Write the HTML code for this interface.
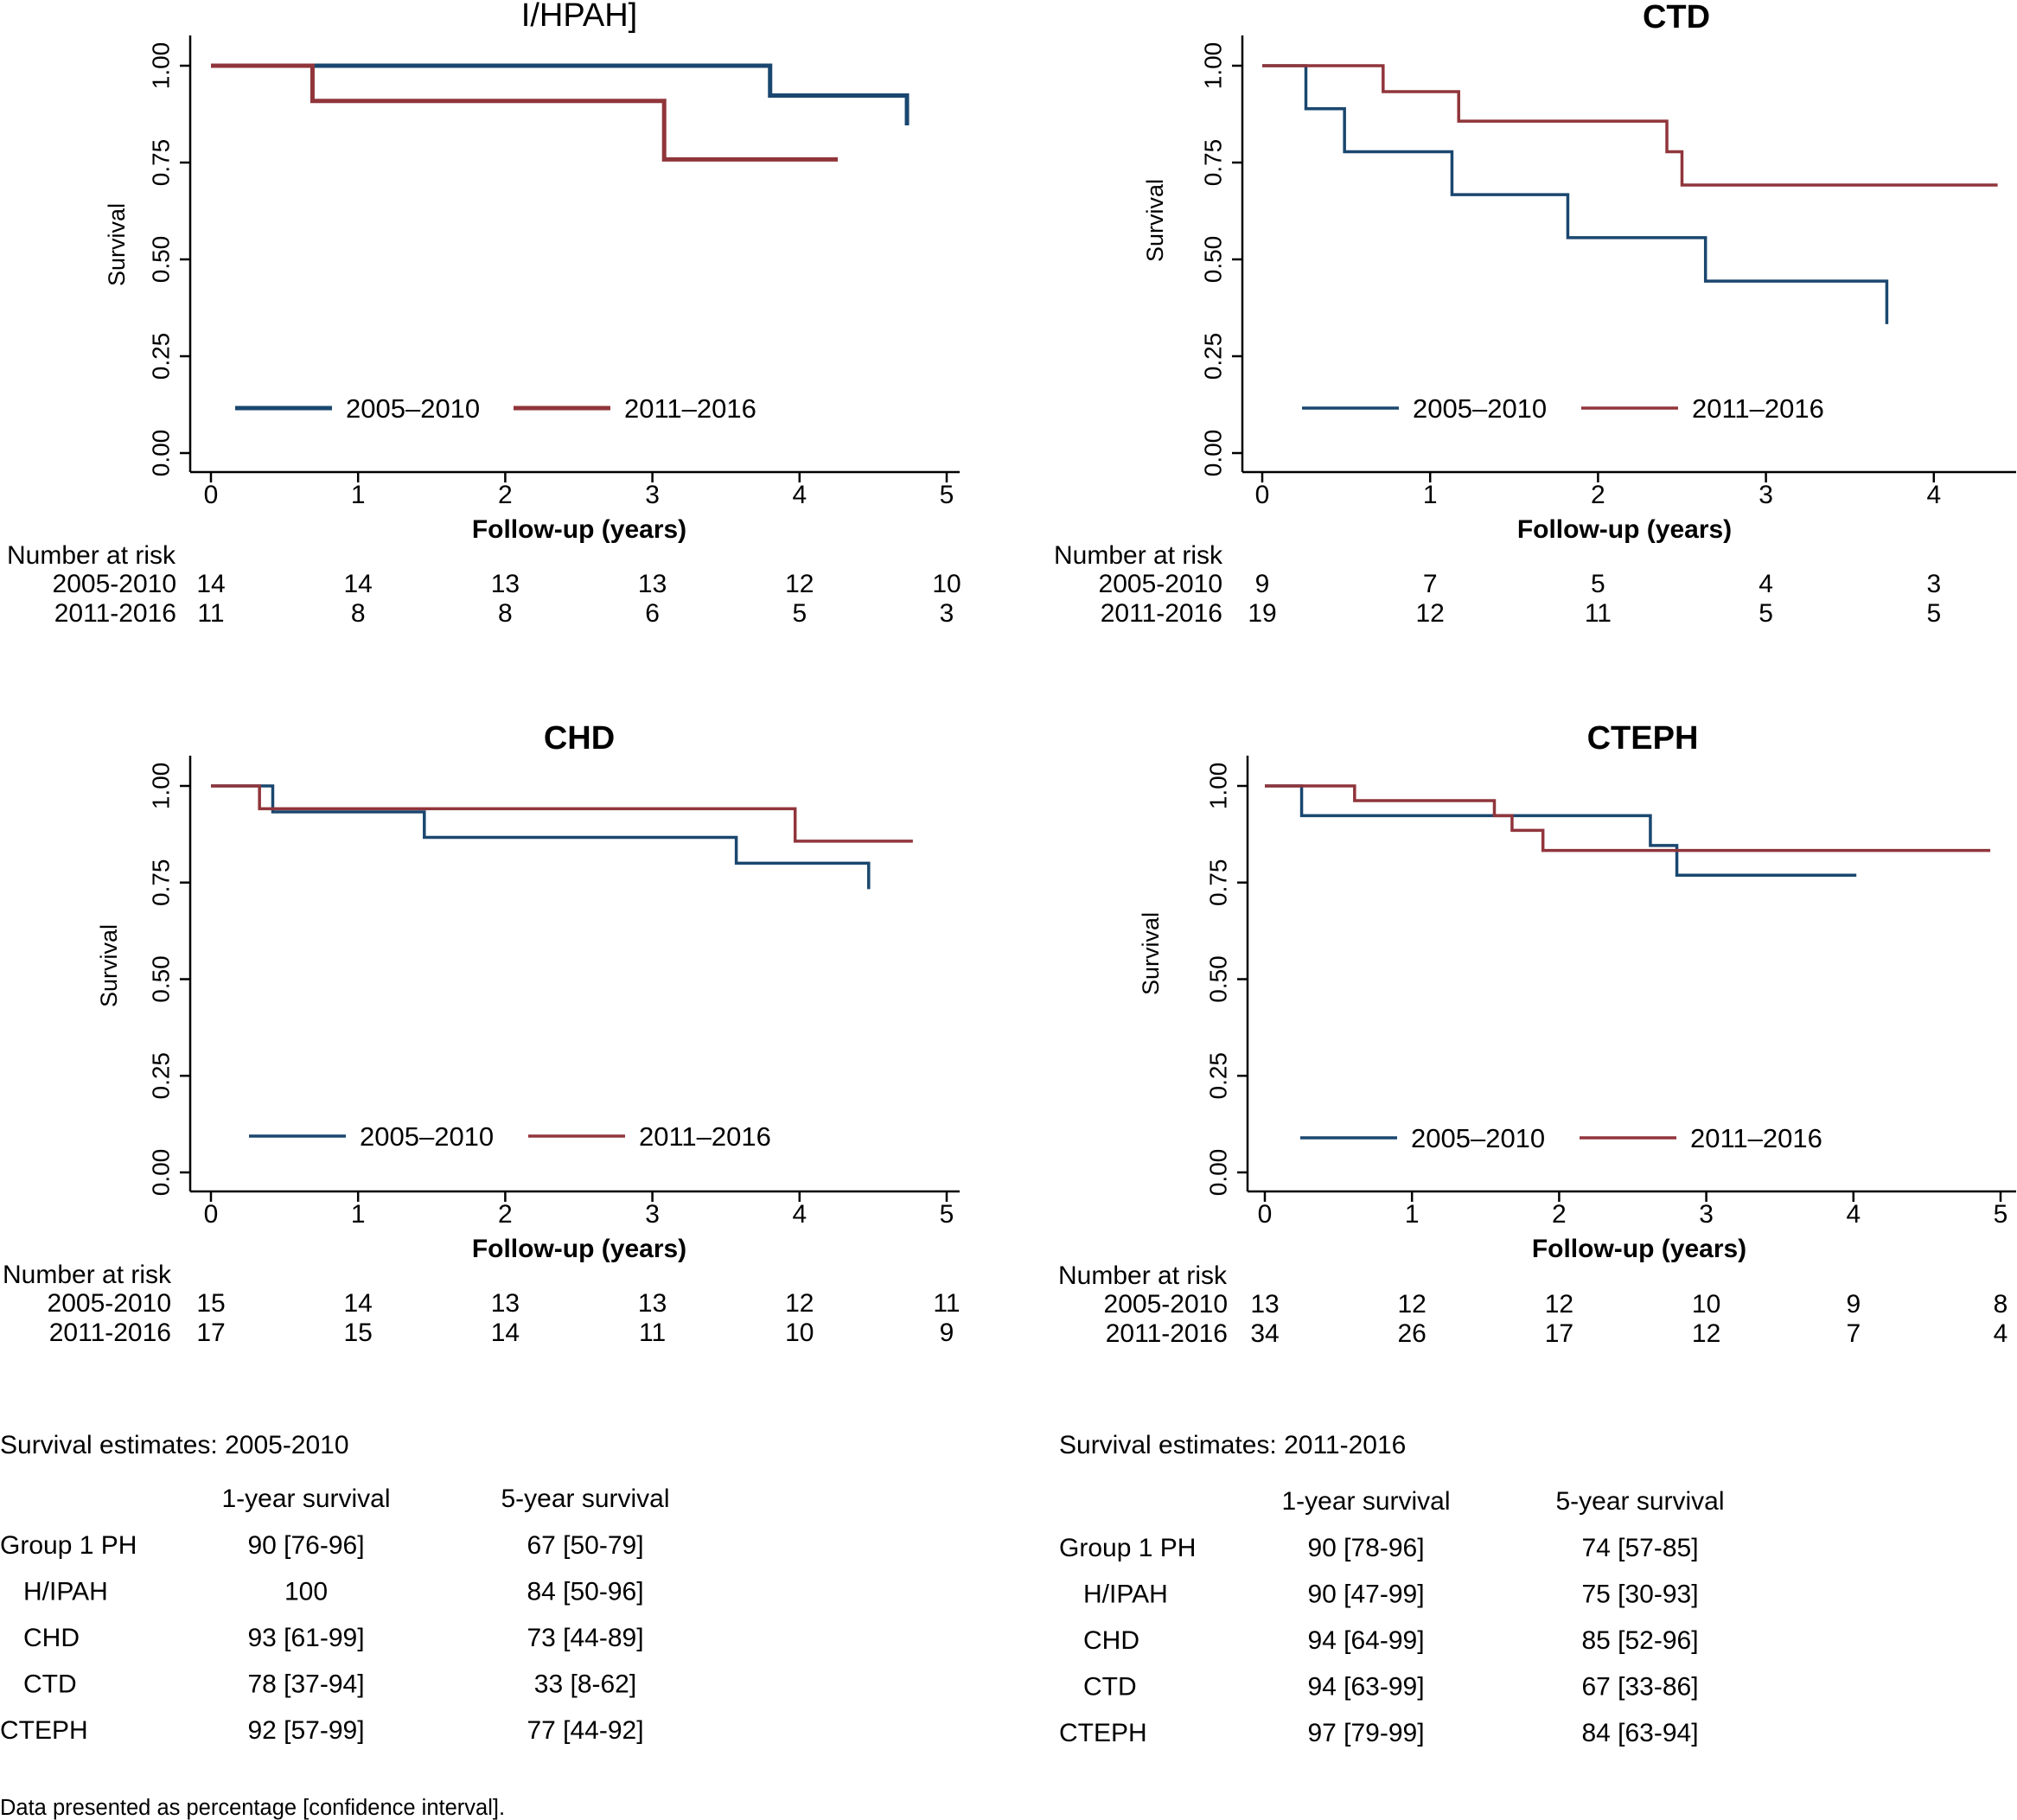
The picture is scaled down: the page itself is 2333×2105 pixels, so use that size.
<!DOCTYPE html>
<html><head><meta charset="utf-8">
<style>
html,body{margin:0;padding:0;background:#fff;}
svg{display:block;}
text{font-family:"Liberation Sans Narrow","Liberation Sans",sans-serif;fill:#000;}
.tick{font-family:"Liberation Sans",sans-serif;}
</style></head>
<body>
<svg id="root" width="2333" height="2105" viewBox="0 0 2333 2105" xmlns="http://www.w3.org/2000/svg"></svg>
<script>
// ---- data ----
const titles = ["I/HPAH]", "CTD", "CHD", "CTEPH"];
const periods = ["2005-2010", "2011-2016"];
const yTicks = [0, 0.25, 0.5, 0.75, 1];
const yTickLabels = ["0.00", "0.25", "0.50", "0.75", "1.00"];
const xTicksHPAH = [0,1,2,3,4,5];
const xTicksCTD = [0,1,2,3,4];
const xTicksCHD = [0,1,2,3,4,5];
const xTicksCTEPH = [0,1,2,3,4,5];
// step curves: times and survival values (start at t=0)
const hpahBlueT = [0, 3.80, 4.73, 4.73];
const hpahBlueS = [1, 0.923, 0.846, 0.846];
const hpahRedT = [0, 0.69, 3.08, 4.26];
const hpahRedS = [1, 0.909, 0.758, 0.758];
const ctdBlueT = [0, 0.26, 0.49, 1.13, 1.82, 2.64, 3.72, 3.72];
const ctdBlueS = [1, 0.889, 0.778, 0.667, 0.556, 0.444, 0.333, 0.333];
const ctdRedT = [0, 0.72, 1.17, 2.41, 2.50, 4.38];
const ctdRedS = [1, 0.933, 0.857, 0.778, 0.692, 0.692];
const chdBlueT = [0, 0.42, 1.45, 3.57, 4.47, 4.47];
const chdBlueS = [1, 0.933, 0.867, 0.800, 0.733, 0.733];
const chdRedT = [0, 0.33, 3.97, 4.77];
const chdRedS = [1, 0.941, 0.857, 0.857];
const ctephBlueT = [0, 0.25, 2.62, 2.80, 4.02];
const ctephBlueS = [1, 0.923, 0.846, 0.769, 0.769];
const ctephRedT = [0, 0.61, 1.56, 1.68, 1.89, 4.93];
const ctephRedS = [1, 0.962, 0.923, 0.885, 0.833, 0.833];
// numbers at risk
const hpahRisk1 = [14,14,13,13,12,10];
const hpahRisk2 = [11,8,8,6,5,3];
const ctdRisk1 = [9,7,5,4,3];
const ctdRisk2 = [19,12,11,5,5];
const chdRisk1 = [15,14,13,13,12,11];
const chdRisk2 = [17,15,14,11,10,9];
const ctephRisk1 = [13,12,12,10,9,8];
const ctephRisk2 = [34,26,17,12,7,4];
// tables
const tableRows = ["Group 1 PH", "H/IPAH", "CHD", "CTD", "CTEPH"];
const est2005_1y = ["90 [76-96]", "100", "93 [61-99]", "78 [37-94]", "92 [57-99]"];
const est2005_5y = ["67 [50-79]", "84 [50-96]", "73 [44-89]", "33 [8-62]", "77 [44-92]"];
const est2011_1y = ["90 [78-96]", "90 [47-99]", "94 [64-99]", "94 [63-99]", "97 [79-99]"];
const est2011_5y = ["74 [57-85]", "75 [30-93]", "85 [52-96]", "67 [33-86]", "84 [63-94]"];

const NS = "http://www.w3.org/2000/svg";
const root = document.getElementById('root');
const BLUE = "#1a476f", RED = "#90353b";
function el(tag, attrs, parent, txt){
  const e = document.createElementNS(NS, tag);
  for (const k in attrs) e.setAttribute(k, attrs[k]);
  if (txt !== undefined) e.textContent = txt;
  (parent||root).appendChild(e);
  return e;
}

function panel(p){
  const g = el('g', {});
  
  
  const xs = t => p.x0 + (t) * p.ux;
  const ys = s => p.yBot - s * (p.yBot - p.yTop);
  const t = el('text', {x:p.titleX, y:p.titleY, 'text-anchor':'middle', 'font-size':38, 'font-weight':p.bold?'bold':'normal'}, g, p.title);
   
  const ya = el('line', {x1:p.axX, y1:p.yTop-35, x2:p.axX, y2:p.axY, stroke:'#000', 'stroke-width':2.5}, g);
   
  const xa = el('line', {x1:p.axX, y1:p.axY, x2:p.axRight, y2:p.axY, stroke:'#000', 'stroke-width':2.5}, g);
   
  yTicks.forEach((v,i)=>{
    const y = ys(v);
    el('line',{x1:p.axX-12,y1:y,x2:p.axX,y2:y,stroke:'#000','stroke-width':2.5},g);
    const tl = el('text',{class:'tick',x:p.axX-32,y:y,'text-anchor':'middle','font-size':28,transform:`rotate(-90 ${p.axX-32} ${y})`,'dominant-baseline':'middle'},g,yTickLabels[i]);
     
  });
  const yl = el('text',{x:p.survX,y:p.survY,'text-anchor':'middle','font-size':27,transform:`rotate(-90 ${p.survX} ${p.survY})`,class:'tick'},g,'Survival');
   
  p.xticks.forEach(v=>{
    const x = xs(v);
    el('line',{x1:x,y1:p.axY,x2:x,y2:p.axY+12,stroke:'#000','stroke-width':2.5},g);
    const tl = el('text',{x:x,y:p.axY+36,'text-anchor':'middle','font-size':30},g,String(v));
     
  });
  const xl = el('text',{x:p.xlX,y:p.axY+76,'text-anchor':'middle','font-size':30,'font-weight':'bold'},g,'Follow-up (years)');
   
  [[p.bT,p.bS,BLUE,'curve-2005-2010'],[p.rT,p.rS,RED,'curve-2011-2016']].forEach(([T,S,c,n])=>{
    let d = `M${xs(T[0])},${ys(S[0])}`;
    for (let i=1;i<T.length;i++){ d += ` H${xs(T[i])} V${ys(S[i])}`; }
    const path = el('path',{d:d,fill:'none',stroke:c,'stroke-width':p.lw},g);
     
  });
  const lg = el('g',{},g);
   
  [[BLUE,'2005–2010',0],[RED,'2011–2016',1]].forEach(([c,txt,i])=>{
    const lx = p.legX + i*p.legGap;
    const le = el('g',{},lg);
     
    el('line',{x1:lx,y1:p.legY,x2:lx+112,y2:p.legY,stroke:c,'stroke-width':p.lw},le);
    el('text',{x:lx+128,y:p.legY+11,'font-size':31},le,txt);
  });
  const rt = el('g',{},g);
   
  el('text',{x:p.narX,y:p.narY,'font-size':30},rt,'Number at risk');
  [[p.r1,0],[p.r2,1]].forEach(([arr,i])=>{
    const y = p.narY + 33 + i*34;
    el('text',{x:p.labR,y:y,'text-anchor':'end','font-size':30},rt,periods[i]);
    arr.forEach((v,j)=>{ el('text',{x:xs(p.xticks[j]),y:y,'text-anchor':'middle','font-size':30},rt,String(v)); });
  });
}

panel({name:'hpah',title:titles[0],bold:false,titleX:670,titleY:30,x0:244,ux:170.2,yTop:76,yBot:524,axX:220,axY:546,axRight:1110,xlX:670,
  survX:144,survY:283,xticks:xTicksHPAH,bT:hpahBlueT,bS:hpahBlueS,rT:hpahRedT,rS:hpahRedS,lw:5,legX:272,legGap:322,legY:472,
  narX:8,narY:652,labR:204,r1:hpahRisk1,r2:hpahRisk2});
panel({name:'ctd',title:titles[1],bold:true,titleX:1939,titleY:32,x0:1460,ux:194.2,yTop:76,yBot:524,axX:1437,axY:546,axRight:2332,xlX:1879,
  survX:1345,survY:255,xticks:xTicksCTD,bT:ctdBlueT,bS:ctdBlueS,rT:ctdRedT,rS:ctdRedS,lw:3.5,legX:1506,legGap:323,legY:472,
  narX:1219,narY:652,labR:1414,r1:ctdRisk1,r2:ctdRisk2});
panel({name:'chd',title:titles[2],bold:true,titleX:670,titleY:866,x0:244,ux:170.2,yTop:909,yBot:1356,axX:220,axY:1378,axRight:1110,xlX:670,
  survX:135,survY:1117,xticks:xTicksCHD,bT:chdBlueT,bS:chdBlueS,rT:chdRedT,rS:chdRedS,lw:3.5,legX:288,legGap:323,legY:1314,
  narX:3,narY:1484,labR:198,r1:chdRisk1,r2:chdRisk2});
panel({name:'cteph',title:titles[3],bold:true,titleX:1900,titleY:866,x0:1463,ux:170.2,yTop:909,yBot:1356,axX:1443,axY:1378,axRight:2332,xlX:1896,
  survX:1340,survY:1103,xticks:xTicksCTEPH,bT:ctephBlueT,bS:ctephBlueS,rT:ctephRedT,rS:ctephRedS,lw:3.5,legX:1504,legGap:323,legY:1316,
  narX:1224,narY:1485,labR:1420,r1:ctephRisk1,r2:ctephRisk2});

function table(t){
  const g = el('g',{});
   
  el('text',{x:t.x,y:t.y,'font-size':30},g,t.title);
  el('text',{x:t.c1,y:t.hy,'text-anchor':'middle','font-size':30},g,'1-year survival');
  el('text',{x:t.c2,y:t.hy,'text-anchor':'middle','font-size':30},g,'5-year survival');
  tableRows.forEach((r,i)=>{
    const y = t.ry + i*53.5;
    const ind = (i>0 && i<4) ? t.ind : 0;
    el('text',{x:t.x+ind,y:y,'font-size':30},g,r);
    el('text',{x:t.c1,y:y,'text-anchor':'middle','font-size':30},g,t.a[i]);
    el('text',{x:t.c2,y:y,'text-anchor':'middle','font-size':30},g,t.b[i]);
  });
}
table({name:'estimates-2005-2010',title:'Survival estimates: 2005-2010',x:0,y:1681,hy:1743,c1:354,c2:677,ry:1797,ind:27,a:est2005_1y,b:est2005_5y});
table({name:'estimates-2011-2016',title:'Survival estimates: 2011-2016',x:1225,y:1681,hy:1746,c1:1580,c2:1897,ry:1800,ind:28,a:est2011_1y,b:est2011_5y});
const fn = el('text',{x:0,y:2099,'font-size':25.5},root,'Data presented as percentage [confidence interval].');
 
</script>
</body></html>
